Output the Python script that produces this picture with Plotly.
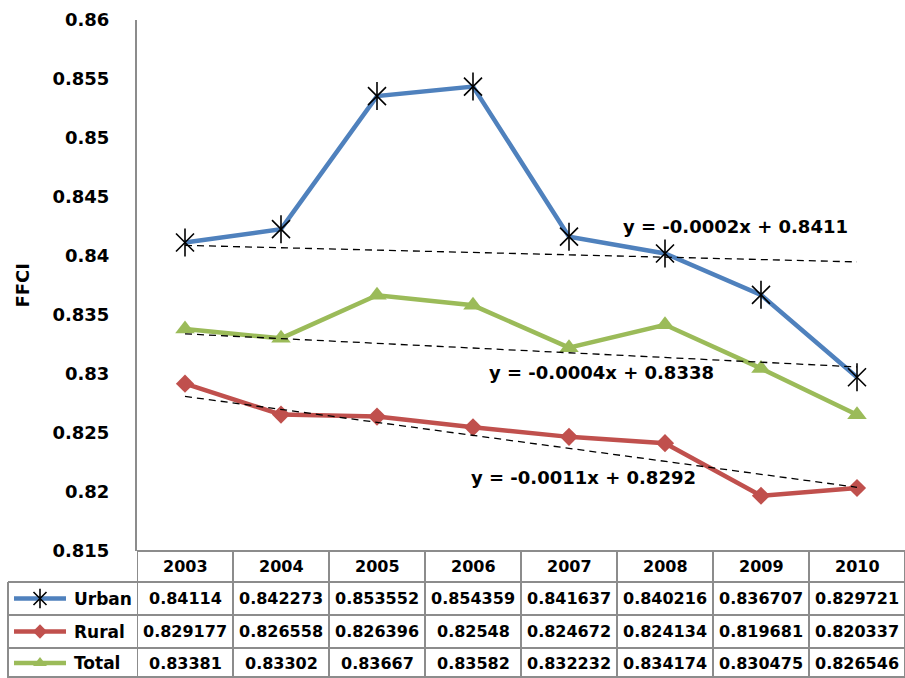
import plotly.graph_objects as go

years = ["2003", "2004", "2005", "2006", "2007", "2008", "2009", "2010"]
urban = [0.84114, 0.842273, 0.853552, 0.854359, 0.841637, 0.840216, 0.836707, 0.829721]
rural = [0.829177, 0.826558, 0.826396, 0.82548, 0.824672, 0.824134, 0.819681, 0.820337]
total = [0.83381, 0.83302, 0.83667, 0.83582, 0.832232, 0.834174, 0.830475, 0.826546]
urban_txt = ["0.84114", "0.842273", "0.853552", "0.854359", "0.841637", "0.840216", "0.836707", "0.829721"]
rural_txt = ["0.829177", "0.826558", "0.826396", "0.82548", "0.824672", "0.824134", "0.819681", "0.820337"]
total_txt = ["0.83381", "0.83302", "0.83667", "0.83582", "0.832232", "0.834174", "0.830475", "0.826546"]
# trendline coefficients as printed on the chart (y = slope*x + intercept, x = 1..8)
trend_slope = {"Urban": -0.0002, "Total": -0.0004, "Rural": -0.0011}
trend_icpt = {"Urban": 0.8411, "Total": 0.8338, "Rural": 0.8292}
eq_urban = "y = -0.0002x + 0.8411"
eq_total = "y = -0.0004x + 0.8338"
eq_rural = "y = -0.0011x + 0.8292"
y_ticks = [0.815, 0.82, 0.825, 0.83, 0.835, 0.84, 0.845, 0.85, 0.855, 0.86]

BLUE, RED, GREEN = "#4F81BD", "#C0504D", "#9BBB59"
GRID = "#8C8C8C"
FONT = "DejaVu Sans"

W, H = 905, 678
def X(px): return px / W
def Y(py): return 1 - py / H

# layout geometry (pixels)
PLOT_L, PLOT_T, PLOT_B = 137, 20, 551
ROW_TOPS = [551, 582, 615, 648, 678]
LEFT_COL = 8

fig = go.Figure()
xi = list(range(1, len(years) + 1))

series = [("Urban", urban, BLUE), ("Rural", rural, RED), ("Total", total, GREEN)]
for name, vals, col in series:
    fig.add_trace(go.Scatter(x=years, y=vals, mode="lines", line=dict(color=col, width=4.5),
                             showlegend=False, hoverinfo="skip"))

# markers
fig.add_trace(go.Scatter(x=years, y=rural, mode="markers",
                         marker=dict(symbol="diamond", size=14, color=RED), showlegend=False))
fig.add_trace(go.Scatter(x=years, y=total, mode="markers",
                         marker=dict(symbol="triangle-up", size=17, color=GREEN), showlegend=False))
fig.add_trace(go.Scatter(x=years, y=urban, mode="markers",
                         marker=dict(symbol="x-thin-open", size=18, color="black",
                                     line=dict(color="black", width=1.6)), showlegend=False))
fig.add_trace(go.Scatter(x=years, y=urban, mode="markers",
                         marker=dict(symbol="line-ns-open", size=20, color="black",
                                     line=dict(color="black", width=1.6)), showlegend=False))

# linear trendlines from printed equations
for name in ("Urban", "Total", "Rural"):
    m, b = trend_slope[name], trend_icpt[name]
    fig.add_trace(go.Scatter(x=years, y=[m * k + b for k in xi], mode="lines",
                             line=dict(color="black", width=1.3, dash="7px,5px"),
                             showlegend=False, hoverinfo="skip"))

# legend keys in table left column (helper axes in pixel space)
row_centers = [(ROW_TOPS[i] + ROW_TOPS[i + 1]) / 2 for i in range(len(ROW_TOPS) - 1)]
key_defs = [("Urban", BLUE, row_centers[1]), ("Rural", RED, row_centers[2]), ("Total", GREEN, row_centers[3])]
for name, col, yc in key_defs:
    fig.add_trace(go.Scatter(x=[14, 66], y=[yc, yc], xaxis="x2", yaxis="y2", mode="lines",
                             line=dict(color=col, width=4.5), showlegend=False, hoverinfo="skip"))
fig.add_trace(go.Scatter(x=[40], y=[row_centers[1]], xaxis="x2", yaxis="y2", mode="markers",
                         marker=dict(symbol="x-thin-open", size=13, color="black",
                                     line=dict(color="black", width=1.6)), showlegend=False))
fig.add_trace(go.Scatter(x=[40], y=[row_centers[1]], xaxis="x2", yaxis="y2", mode="markers",
                         marker=dict(symbol="line-ns-open", size=14, color="black",
                                     line=dict(color="black", width=1.6)), showlegend=False))
fig.add_trace(go.Scatter(x=[40], y=[row_centers[2]], xaxis="x2", yaxis="y2", mode="markers",
                         marker=dict(symbol="diamond", size=11, color=RED), showlegend=False))
fig.add_trace(go.Scatter(x=[40], y=[row_centers[3]], xaxis="x2", yaxis="y2", mode="markers",
                         marker=dict(symbol="triangle-up", size=12, color=GREEN), showlegend=False))

shapes = []
# vertical table lines on category boundaries
for i in range(len(years) + 1):
    shapes.append(dict(type="line", xref="x", yref="paper", x0=i - 0.5, x1=i - 0.5,
                       y0=Y(PLOT_B), y1=Y(H), line=dict(color=GRID, width=2)))
# left column outer border
shapes.append(dict(type="line", xref="paper", yref="paper", x0=X(LEFT_COL), x1=X(LEFT_COL),
                   y0=Y(ROW_TOPS[1]), y1=Y(H), line=dict(color=GRID, width=2)))
# header top line
shapes.append(dict(type="line", xref="paper", yref="paper", x0=X(PLOT_L), x1=1,
                   y0=Y(ROW_TOPS[0]), y1=Y(ROW_TOPS[0]), line=dict(color=GRID, width=2)))
for r in ROW_TOPS[1:]:
    yy = Y(min(r, H - 1))
    shapes.append(dict(type="line", xref="paper", yref="paper", x0=X(LEFT_COL), x1=1,
                       y0=yy, y1=yy, line=dict(color=GRID, width=2)))

TFONT = dict(family=FONT, size=16, color="black", weight="bold")
ann = []
for i, yr in enumerate(years):
    ann.append(dict(x=i, y=Y(row_centers[0]), xref="x", yref="paper", text=yr, showarrow=False,
                    xanchor="center", yanchor="middle", font=TFONT))
    for txts, rc in ((urban_txt, row_centers[1]), (rural_txt, row_centers[2]), (total_txt, row_centers[3])):
        ann.append(dict(x=i, y=Y(rc), xref="x", yref="paper", text=txts[i], showarrow=False,
                        xanchor="center", yanchor="middle", font=TFONT))
for name, col, yc in key_defs:
    ann.append(dict(x=X(72), y=Y(yc), xref="paper", yref="paper", text=name, showarrow=False,
                    xanchor="left", yanchor="middle",
                    font=dict(family=FONT, size=17, color="black", weight="bold")))

# trendline equations
for txt, xv, yv in ((eq_urban, 5.73, 0.84254), (eq_total, 4.34, 0.83009), (eq_rural, 4.15, 0.82127)):
    ann.append(dict(x=xv, y=yv, xref="x", yref="y", text=txt, showarrow=False,
                    xanchor="center", yanchor="middle",
                    font=dict(family=FONT, size=18, color="black", weight="bold")))

# y-axis title
ann.append(dict(x=X(22), y=Y((PLOT_T + PLOT_B) / 2), xref="paper", yref="paper", text="FFCI",
                showarrow=False, textangle=-90, xanchor="center", yanchor="middle",
                font=dict(family=FONT, size=18, color="black", weight="bold")))

fig.update_layout(
    width=W, height=H, margin=dict(l=0, r=0, t=0, b=0),
    paper_bgcolor="white", plot_bgcolor="rgba(0,0,0,0)",
    xaxis=dict(domain=[X(PLOT_L), 1], type="category", range=[-0.5, 7.5], showticklabels=False,
               showgrid=False, zeroline=False, showline=False, ticks="", fixedrange=True),
    yaxis=dict(domain=[Y(PLOT_B), Y(PLOT_T)], range=[0.815, 0.86], tickvals=y_ticks,
               ticktext=[("%g" % v) for v in y_ticks], showgrid=False, zeroline=False,
               showline=True, linecolor=GRID, linewidth=2, ticks="", ticklabelstandoff=22,
               tickfont=dict(family=FONT, size=18, color="black", weight="bold"), automargin=False,
               fixedrange=True),
    xaxis2=dict(domain=[0, 1], range=[0, W], visible=False, fixedrange=True, anchor="y2"),
    yaxis2=dict(domain=[0, 1], range=[H, 0], visible=False, fixedrange=True, anchor="x2"),
    shapes=shapes, annotations=ann, showlegend=False,
)
fig.write_html("out.html", config={"displayModeBar": False},
               post_script="document.body.style.margin='0';document.body.style.overflow='hidden';")
